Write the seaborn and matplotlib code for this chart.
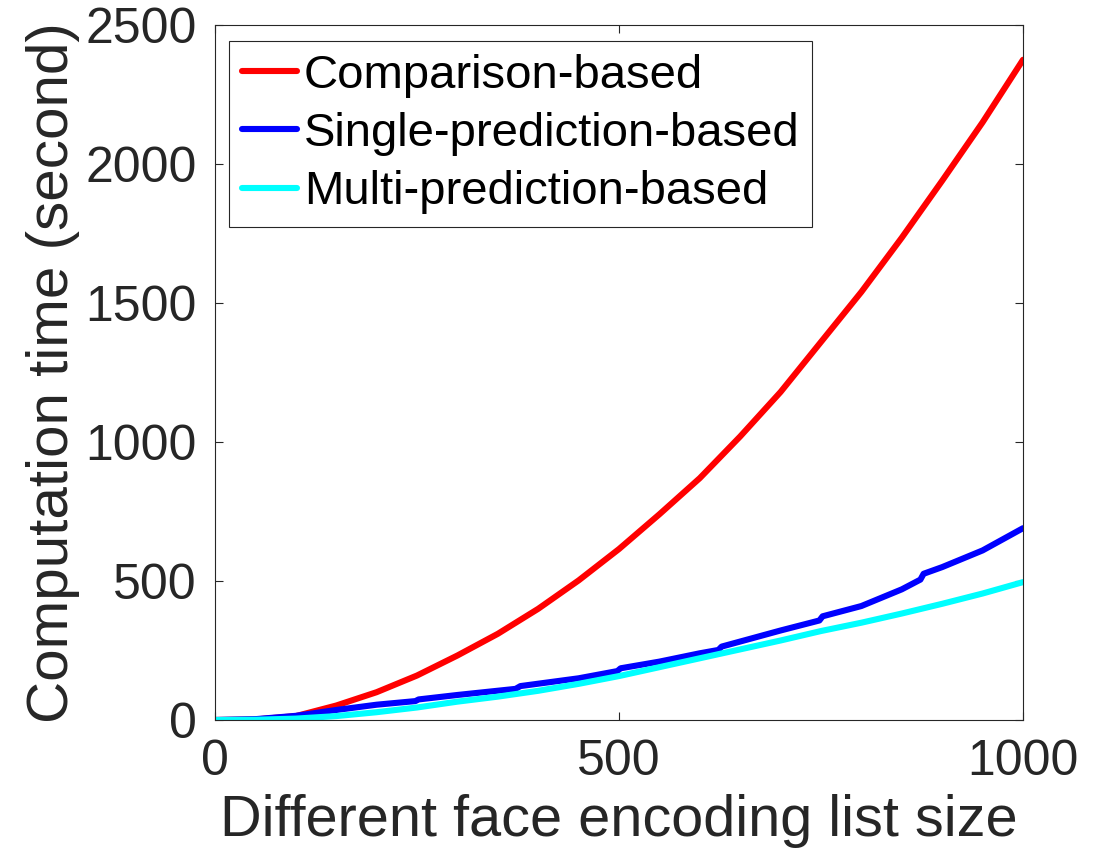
import numpy as np
import pandas as pd
import matplotlib
matplotlib.use("Agg")
import matplotlib.pyplot as plt
import seaborn as sns

# ---- data ----
x_red = [0, 50, 100, 150, 200, 250, 300, 350, 400, 450, 500, 550, 600, 650,
         700, 750, 800, 850, 900, 950, 1000]
y_red = [0, 2, 14, 52, 100, 160, 232, 310, 400, 502, 615, 740, 870, 1020,
         1180, 1360, 1540, 1735, 1940, 2150, 2375]

x_blue = [0, 50, 100, 150, 200, 248, 252, 300, 372, 378, 450, 498, 502, 550,
          600, 623, 627, 700, 748, 752, 800, 850, 873, 877, 900, 950, 1000]
y_blue = [0, 3, 15, 36, 55, 68, 74, 90, 112, 122, 150, 176, 186, 210,
          240, 252, 264, 322, 358, 373, 410, 470, 505, 526, 550, 610, 690]

x_cyan = [0, 50, 100, 150, 200, 250, 300, 350, 400, 450, 500, 550, 600, 650,
          700, 750, 800, 850, 900, 950, 1000]
y_cyan = [0, 1, 5, 14, 28, 45, 66, 84, 105, 130, 158, 190, 222, 254,
          286, 320, 350, 383, 418, 455, 496]

labels = ["Comparison-based", "Single-prediction-based", "Multi-prediction-based"]
colors = ["#ff0000", "#0000ff", "#00ffff"]
x_ticks = [0, 500, 1000]
y_ticks = [0, 500, 1000, 1500, 2000, 2500]
x_label = "Different face encoding list size"
y_label = "Computation time (second)"

sns.set_style("white")
plt.rcParams["font.family"] = ["Liberation Sans", "DejaVu Sans"]

fig = plt.figure(figsize=(11.1, 8.68), dpi=100)
ax = fig.add_axes([215 / 1110, 1 - 720 / 868, 808 / 1110, 695 / 868])

series = [(x_red, y_red), (x_blue, y_blue), (x_cyan, y_cyan)]
for (xs, ys), lab, col in zip(series, labels, colors):
    df = pd.DataFrame({"x": xs, "y": ys})
    sns.lineplot(data=df, x="x", y="y", ax=ax, color=col, label=lab,
                 linewidth=4.4, estimator=None, sort=False)

ax.set_xlim(0, 1000)
ax.set_ylim(0, 2500)
ax.set_xticks(x_ticks)
ax.set_yticks(y_ticks)

gray = "#262626"
for s in ax.spines.values():
    s.set_visible(True)
    s.set_color(gray)
    s.set_linewidth(0.8)

ax.tick_params(axis="both", which="both", direction="in", length=6, width=0.8,
               color=gray, labelcolor=gray, labelsize=36,
               top=True, right=True, bottom=True, left=True)
ax.tick_params(axis="x", pad=14)
ax.tick_params(axis="y", pad=13)

ax.set_xlabel(x_label, fontsize=41.5, color=gray, labelpad=6)
ax.set_ylabel(y_label, fontsize=42, color=gray, labelpad=4)

leg = ax.legend(loc="upper left", bbox_to_anchor=(14 / 808, 1 - 16 / 695),
                borderaxespad=0, fontsize=34, frameon=True, fancybox=False,
                framealpha=1, edgecolor=gray, handlelength=1.17,
                handletextpad=0.15, labelspacing=0.3, borderpad=0.27)
leg.get_frame().set_linewidth(0.8)
for t in leg.get_texts():
    t.set_color("black")

fig.savefig("out.png", dpi=100)
